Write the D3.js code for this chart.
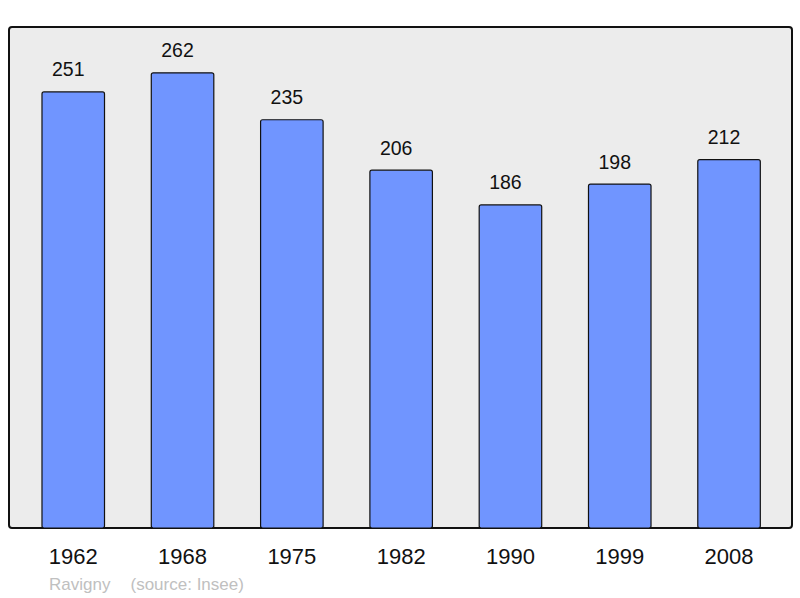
<!DOCTYPE html>
<style>
    body { margin: 0; background: #fff; }
    text { font-family: "Liberation Sans", Arial, sans-serif; }
</style>
<body>
<script src="https://d3js.org/d3.v7.min.js"></script>
<script>
    var years = ["1962", "1968", "1975", "1982", "1990", "1999", "2008"];
    var population = [251, 262, 235, 206, 186, 198, 212];

    var width = 800, height = 598;
    var panel = { left: 9, top: 27, right: 792, bottom: 528 };

    var svg = d3.select("body").append("svg")
        .attr("width", width)
        .attr("height", height);

    svg.append("rect")
        .attr("x", panel.left)
        .attr("y", panel.top)
        .attr("width", panel.right - panel.left)
        .attr("height", panel.bottom - panel.top)
        .attr("rx", 3)
        .attr("fill", "#ececec")
        .attr("stroke", "#111")
        .attr("stroke-width", 2);

    // step ~109.3px, bar ~62.5px wide
    var x = d3.scaleBand()
        .domain(years)
        .range([18.6, 783.7])
        .paddingInner(0.428)
        .paddingOuter(0.214);

    var y = d3.scaleLinear()
        .domain([0, 288.4])
        .range([panel.bottom, panel.top]);

    var data = years.map(function(d, i) { return { year: d, value: population[i] }; });

    svg.append("g")
        .selectAll("rect")
        .data(data)
        .enter().append("rect")
        .attr("x", function(d) { return x(d.year); })
        .attr("y", function(d) { return y(d.value); })
        .attr("width", x.bandwidth())
        .attr("height", function(d) { return y(0) - y(d.value); })
        .attr("rx", 2)
        .attr("fill", "#7095ff")
        .attr("stroke", "#111")
        .attr("stroke-width", 1.2);

    // value labels sit a little left of the bar centre in the original
    svg.append("g")
        .selectAll("text")
        .data(data)
        .enter().append("text")
        .attr("x", function(d) { return x(d.year) + x.bandwidth() / 2 - 5; })
        .attr("y", function(d) { return y(d.value) - 15.5; })
        .attr("text-anchor", "middle")
        .attr("font-size", 19.5)
        .attr("fill", "#111")
        .text(function(d) { return d.value; });

    var axis = svg.append("g")
        .attr("transform", "translate(0," + panel.bottom + ")")
        .call(d3.axisBottom(x).tickSize(0).tickPadding(20));
    axis.select(".domain").remove();
    axis.selectAll("text")
        .attr("font-size", 22)
        .attr("font-family", "Liberation Sans, Arial, sans-serif")
        .attr("fill", "#111");

    svg.append("text")
        .attr("x", 49)
        .attr("y", 590)
        .attr("font-size", 17)
        .attr("fill", "#c0c0c0")
        .text("Ravigny");

    svg.append("text")
        .attr("x", 130.5)
        .attr("y", 590)
        .attr("font-size", 17)
        .attr("fill", "#c0c0c0")
        .text("(source: Insee)");
</script>
</body>
